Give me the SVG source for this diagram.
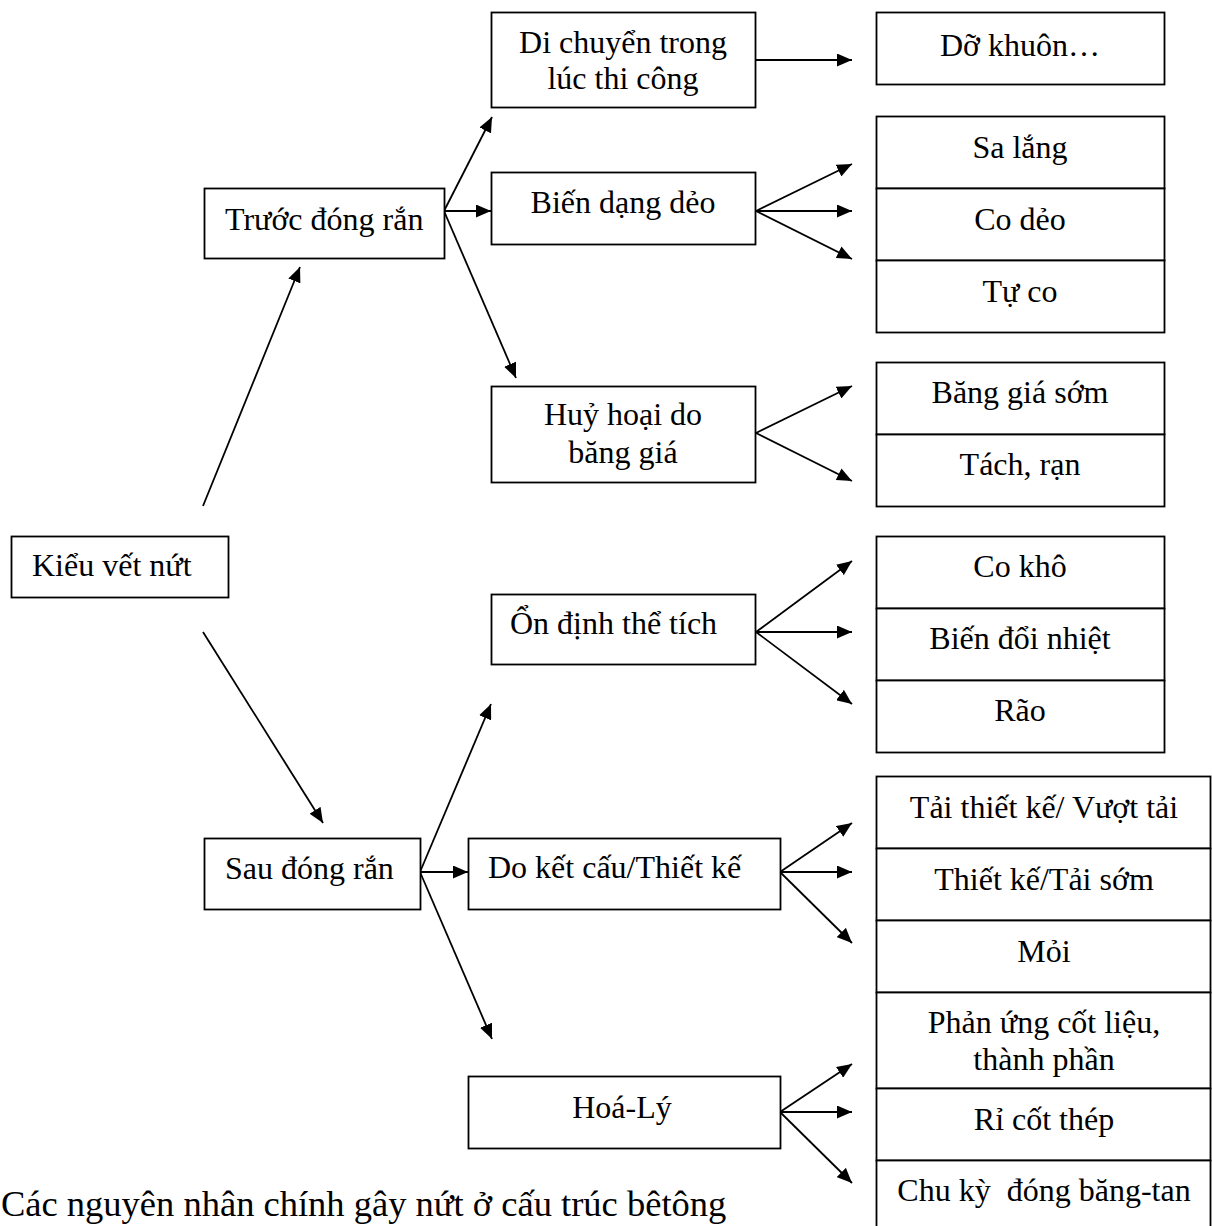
<svg xmlns="http://www.w3.org/2000/svg" width="1212" height="1226" viewBox="0 0 1212 1226">
<style>
.box{fill:#fff;stroke:#000;stroke-width:1.8}
.t{font-family:"Liberation Serif","Times New Roman",serif;font-size:32px;fill:#000}
.c{text-anchor:middle}
.ln{stroke:#000;stroke-width:1.8;fill:none}
.cap{font-family:"Liberation Serif","Times New Roman",serif;font-size:36.5px;fill:#000}
</style>
<defs>
<marker id="ah" viewBox="0 0 15 13" markerWidth="15" markerHeight="13" refX="15" refY="6.5" orient="auto" markerUnits="userSpaceOnUse">
<path d="M0,0 L15,6.5 L0,13 Z" fill="#000"/>
</marker>
</defs>
<rect width="1212" height="1226" fill="#fff"/>

<g id="connectors">
<line class="ln" x1="203" y1="506" x2="300" y2="267" marker-end="url(#ah)"/>
<line class="ln" x1="203" y1="632" x2="323" y2="823" marker-end="url(#ah)"/>
<line class="ln" x1="444" y1="211" x2="492" y2="117" marker-end="url(#ah)"/>
<line class="ln" x1="444" y1="211" x2="491" y2="211" marker-end="url(#ah)"/>
<line class="ln" x1="444" y1="211" x2="516" y2="378" marker-end="url(#ah)"/>
<line class="ln" x1="756" y1="60" x2="852" y2="60" marker-end="url(#ah)"/>
<line class="ln" x1="756" y1="211" x2="852" y2="164" marker-end="url(#ah)"/>
<line class="ln" x1="756" y1="211" x2="852" y2="211" marker-end="url(#ah)"/>
<line class="ln" x1="756" y1="211" x2="852" y2="259" marker-end="url(#ah)"/>
<line class="ln" x1="756" y1="433" x2="852" y2="386" marker-end="url(#ah)"/>
<line class="ln" x1="756" y1="433" x2="852" y2="481" marker-end="url(#ah)"/>
<line class="ln" x1="756" y1="632" x2="852" y2="561" marker-end="url(#ah)"/>
<line class="ln" x1="756" y1="632" x2="852" y2="632" marker-end="url(#ah)"/>
<line class="ln" x1="756" y1="632" x2="852" y2="704" marker-end="url(#ah)"/>
<line class="ln" x1="420" y1="872" x2="491" y2="704" marker-end="url(#ah)"/>
<line class="ln" x1="420" y1="872" x2="468" y2="872" marker-end="url(#ah)"/>
<line class="ln" x1="420" y1="872" x2="492" y2="1039" marker-end="url(#ah)"/>
<line class="ln" x1="780" y1="872" x2="852" y2="823" marker-end="url(#ah)"/>
<line class="ln" x1="780" y1="872" x2="852" y2="872" marker-end="url(#ah)"/>
<line class="ln" x1="780" y1="872" x2="852" y2="943" marker-end="url(#ah)"/>
<line class="ln" x1="780" y1="1112" x2="852" y2="1064" marker-end="url(#ah)"/>
<line class="ln" x1="780" y1="1112" x2="852" y2="1112" marker-end="url(#ah)"/>
<line class="ln" x1="780" y1="1112" x2="852" y2="1183" marker-end="url(#ah)"/>
</g>

<g id="kieu-vet-nut">
<rect class="box" x="11.5" y="536.5" width="217" height="61"/>
<text class="t" x="32" y="576">Kiểu vết nứt</text>
</g>
<g id="truoc-dong-ran">
<rect class="box" x="204.5" y="188.5" width="240" height="70"/>
<text class="t" x="225" y="230">Trước đóng rắn</text>
</g>
<g id="sau-dong-ran">
<rect class="box" x="204.5" y="838.5" width="216" height="71"/>
<text class="t" x="225" y="879">Sau đóng rắn</text>
</g>
<g id="di-chuyen">
<rect class="box" x="491.5" y="12.5" width="264" height="95"/>
<text class="t c" x="623" y="53">Di chuyển trong</text>
<text class="t c" x="623" y="89">lúc thi công</text>
</g>
<g id="bien-dang-deo">
<rect class="box" x="491.5" y="172.5" width="264" height="72"/>
<text class="t c" x="623" y="213">Biến dạng dẻo</text>
</g>
<g id="huy-hoai">
<rect class="box" x="491.5" y="386.5" width="264" height="96"/>
<text class="t c" x="623" y="425">Huỷ hoại do</text>
<text class="t c" x="623" y="463">băng giá</text>
</g>
<g id="on-dinh">
<rect class="box" x="491.5" y="594.5" width="264" height="70"/>
<text class="t" x="510" y="634">Ổn định thể tích</text>
</g>
<g id="do-ket-cau">
<rect class="box" x="468.5" y="838.5" width="312" height="71"/>
<text class="t" x="488" y="878">Do kết cấu/Thiết kế</text>
</g>
<g id="hoa-ly">
<rect class="box" x="468.5" y="1076.5" width="312" height="72"/>
<text class="t c" x="622" y="1118">Hoá-Lý</text>
</g>
<g id="do-khuon">
<rect class="box" x="876.5" y="12.5" width="288" height="72"/>
<text class="t c" x="1020" y="56">Dỡ khuôn…</text>
</g>
<g id="sa-lang">
<rect class="box" x="876.5" y="116.5" width="288" height="72"/>
<text class="t c" x="1020" y="158">Sa lắng</text>
</g>
<g id="co-deo">
<rect class="box" x="876.5" y="188.5" width="288" height="72"/>
<text class="t c" x="1020" y="230">Co dẻo</text>
</g>
<g id="tu-co">
<rect class="box" x="876.5" y="260.5" width="288" height="72"/>
<text class="t c" x="1020" y="302">Tự co</text>
</g>
<g id="bang-gia-som">
<rect class="box" x="876.5" y="362.5" width="288" height="72"/>
<text class="t c" x="1020" y="403">Băng giá sớm</text>
</g>
<g id="tach-ran">
<rect class="box" x="876.5" y="434.5" width="288" height="72"/>
<text class="t c" x="1020" y="475">Tách, rạn</text>
</g>
<g id="co-kho">
<rect class="box" x="876.5" y="536.5" width="288" height="72"/>
<text class="t c" x="1020" y="577">Co khô</text>
</g>
<g id="bien-doi-nhiet">
<rect class="box" x="876.5" y="608.5" width="288" height="72"/>
<text class="t c" x="1020" y="649">Biến đổi nhiệt</text>
</g>
<g id="rao">
<rect class="box" x="876.5" y="680.5" width="288" height="72"/>
<text class="t c" x="1020" y="721">Rão</text>
</g>
<g id="tai-thiet-ke">
<rect class="box" x="876.5" y="776.5" width="334" height="72"/>
<text class="t c" x="1044" y="818">Tải thiết kế/ Vượt tải</text>
</g>
<g id="thiet-ke-tai-som">
<rect class="box" x="876.5" y="848.5" width="334" height="72"/>
<text class="t c" x="1044" y="890">Thiết kế/Tải sớm</text>
</g>
<g id="moi">
<rect class="box" x="876.5" y="920.5" width="334" height="72"/>
<text class="t c" x="1044" y="962">Mỏi</text>
</g>
<g id="phan-ung">
<rect class="box" x="876.5" y="992.5" width="334" height="96"/>
<text class="t c" x="1044" y="1033">Phản ứng cốt liệu,</text>
<text class="t c" x="1044" y="1070">thành phần</text>
</g>
<g id="ri-cot-thep">
<rect class="box" x="876.5" y="1088.5" width="334" height="72"/>
<text class="t c" x="1044" y="1130">Rỉ cốt thép</text>
</g>
<g id="chu-ky">
<rect class="box" x="876.5" y="1160.5" width="334" height="80"/>
<text class="t c" x="1044" y="1201" xml:space="preserve">Chu kỳ  đóng băng-tan</text>
</g>

<text class="cap" x="1" y="1216">Các nguyên nhân chính gây nứt ở cấu trúc bêtông</text>
</svg>
